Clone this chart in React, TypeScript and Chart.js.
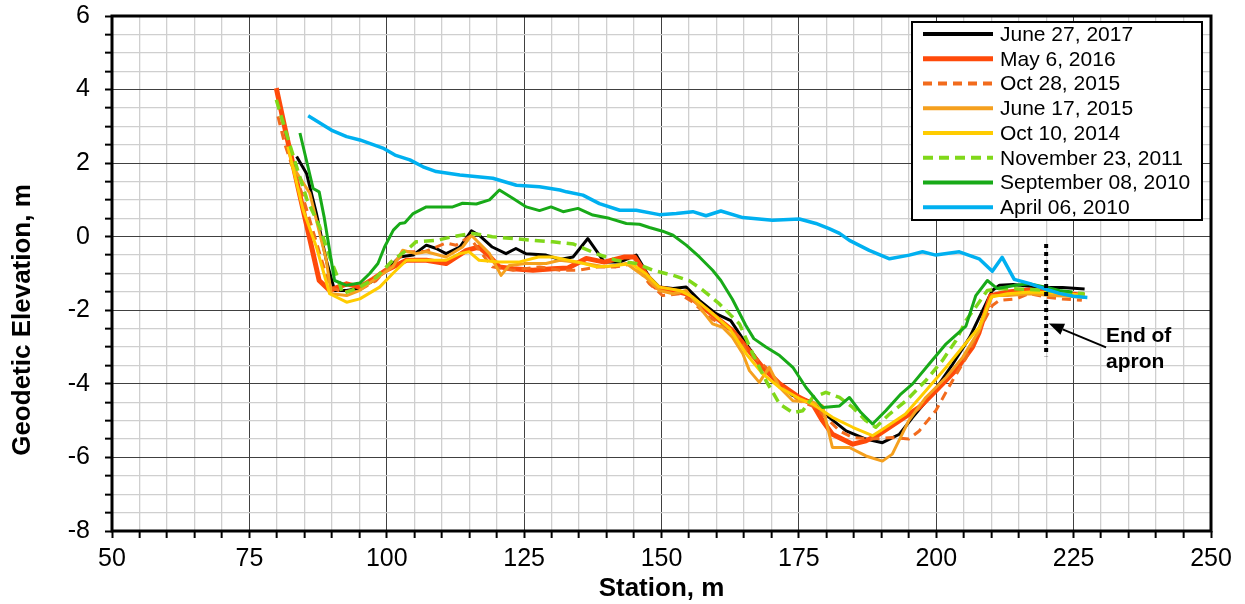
import React, { useEffect, useRef } from "react";
import { Chart, registerables } from "chart.js";

Chart.register(...registerables);

// ---------- data ----------
const LABELS = [
  "June 27, 2017",
  "May 6, 2016",
  "Oct 28, 2015",
  "June 17, 2015",
  "Oct 10, 2014",
  "November 23, 2011",
  "September 08, 2010",
  "April 06, 2010",
];

const ST_2017 = [83.6, 85.4, 87.2, 89.0, 90.5, 92.7, 95.1, 97.5, 99.9, 102.3, 104.8, 107.2, 109.0, 110.8, 113.3, 115.4, 116.8, 119.2, 121.7, 123.5, 125.3, 129.0, 131.5, 133.9, 136.6, 139.6, 142.4, 145.4, 147.8, 149.6, 152.1, 154.5, 156.9, 159.9, 162.6, 165.4, 168.4, 171.5, 173.9, 177.5, 180.5, 183.6, 187.2, 190.2, 193.3, 195.7, 199.3, 203.0, 206.1, 207.8, 210.2, 211.5, 214, 217, 220, 223, 227];
const EL_2017 = [2.18, 1.72, 0.63, -0.64, -1.46, -1.46, -1.4, -1.2, -0.91, -0.55, -0.5, -0.23, -0.32, -0.46, -0.28, 0.16, 0.04, -0.28, -0.46, -0.32, -0.46, -0.5, -0.62, -0.55, -0.05, -0.69, -0.69, -0.5, -1.1, -1.37, -1.41, -1.37, -1.73, -2.09, -2.28, -2.91, -3.55, -4.0, -4.32, -4.5, -4.91, -5.28, -5.5, -5.6, -5.37, -4.91, -4.27, -3.46, -2.73, -2.2, -1.46, -1.32, -1.3, -1.35, -1.38, -1.38, -1.42];

const ST_2016 = [79.9, 81.4, 84.1, 86.6, 87.7, 89.6, 92.7, 95.1, 97.5, 99.9, 103.6, 107.2, 110.8, 114.5, 116.8, 118.5, 120.5, 123, 126.6, 130.2, 133, 136.3, 139.6, 143.3, 145.1, 147.1, 148.9, 152.1, 154.5, 157.5, 159.9, 162.9, 165.4, 168.4, 171.5, 175.1, 177.5, 179.3, 181.1, 184.8, 187.2, 189.6, 193.3, 196.9, 200.5, 203.5, 206.6, 207.8, 209.9, 213, 217, 221, 224, 227];
const EL_2016 = [4.04, 3.0, 1.18, -0.46, -1.19, -1.46, -1.28, -1.37, -1.15, -0.91, -0.64, -0.64, -0.73, -0.37, -0.28, -0.5, -0.82, -0.87, -0.91, -0.87, -0.85, -0.59, -0.69, -0.55, -0.55, -1.0, -1.37, -1.46, -1.55, -1.91, -2.19, -2.55, -3.0, -3.55, -4.0, -4.37, -4.55, -5.0, -5.37, -5.64, -5.55, -5.37, -5.0, -4.64, -4.1, -3.64, -3.0, -2.6, -1.6, -1.5, -1.45, -1.5, -1.55, -1.6];

const ST_2015_OCT = [80.2, 81.4, 82.6, 84.5, 86.5, 88.5, 89.6, 92, 95, 98, 100.5, 103.6, 107, 110.8, 112.6, 115.0, 117, 119.2, 123.0, 127.8, 131.5, 135, 138.5, 141.7, 145, 147.8, 150.2, 153.3, 155.7, 158.7, 161.8, 164.1, 165.4, 169, 172, 175.1, 178.1, 179.9, 182.4, 184.8, 188, 192, 195, 196.9, 199.9, 203, 205.4, 208.4, 210.2, 211.5, 214.5, 216.9, 219.9, 222.9, 226.5];
const EL_2015_OCT = [3.27, 2.54, 2.0, 1.2, 0.2, -0.8, -1.37, -1.5, -1.45, -1.2, -0.8, -0.41, -0.4, -0.17, -0.23, 0.0, -0.4, -0.82, -0.91, -0.82, -0.91, -0.91, -0.82, -0.82, -0.73, -1.28, -1.6, -1.55, -1.78, -2.19, -2.46, -2.73, -3.1, -3.55, -4.1, -4.46, -4.64, -4.91, -5.28, -5.46, -5.5, -5.46, -5.5, -5.28, -4.73, -3.9, -3.3, -2.37, -1.87, -1.73, -1.69, -1.55, -1.64, -1.69, -1.73];

const ST_2015_JUN = [82.5, 86, 89, 89.9, 92.7, 95.1, 97.5, 101.1, 102.9, 105.3, 107.2, 110.8, 113.8, 115.4, 118.7, 120.8, 122.3, 125.3, 129, 131.5, 135, 139.9, 143.6, 147.1, 149.6, 152.1, 154.5, 156.9, 159.3, 161.1, 162.9, 164.8, 166, 167.8, 169.6, 171.5, 173.9, 177.5, 179.3, 181.1, 184.2, 187.2, 190.2, 192, 195, 198.1, 201.8, 204.8, 207.8, 210.2, 213, 217, 221, 224, 227];
const EL_2015_JUN = [2.0, 1.18, -0.64, -1.55, -1.6, -1.46, -1.19, -0.82, -0.37, -0.46, -0.41, -0.55, -0.28, 0.04, -0.46, -1.05, -0.78, -0.73, -0.73, -0.64, -0.7, -0.82, -0.73, -1.1, -1.46, -1.55, -1.46, -1.91, -2.37, -2.46, -2.73, -3.18, -3.64, -3.96, -3.55, -4.1, -4.46, -4.5, -4.6, -5.73, -5.73, -5.96, -6.1, -5.91, -5.0, -4.37, -3.82, -3.28, -2.55, -1.6, -1.6, -1.55, -1.6, -1.62, -1.65];

const ST_2014 = [82, 84.8, 87.2, 89.6, 92.7, 95.1, 98.7, 101.1, 103.6, 107.2, 110.8, 113.3, 115, 116.8, 120.5, 124, 127.6, 130.2, 131.5, 134.8, 138.1, 141.7, 144.5, 147.1, 149.6, 153.3, 155.7, 159.3, 162.4, 165.4, 168.4, 171.5, 175.1, 177.5, 181.1, 184.8, 188.4, 190.8, 194.4, 198.1, 201.8, 204.8, 207.8, 210, 213, 217, 221, 224, 227];
const EL_2014 = [2.45, 0.72, -0.28, -1.55, -1.78, -1.69, -1.37, -1.0, -0.64, -0.64, -0.64, -0.46, -0.41, -0.64, -0.69, -0.69, -0.55, -0.55, -0.59, -0.69, -0.82, -0.78, -0.73, -1.0, -1.37, -1.46, -1.64, -2.09, -2.5, -3.18, -3.73, -4.1, -4.4, -4.55, -4.91, -5.18, -5.41, -5.18, -4.82, -4.19, -3.55, -3.0, -2.46, -1.64, -1.55, -1.5, -1.52, -1.55, -1.6];

const ST_2011 = [79.9, 81.7, 83.6, 85.5, 87.8, 89.6, 90.8, 92, 95.1, 98.1, 101.1, 103.6, 105.3, 109, 112, 115.6, 119.2, 123, 126.6, 130.2, 134, 138.1, 141.7, 145.4, 148.4, 152.1, 155.1, 157.5, 160.5, 164.2, 166.6, 169.0, 171.5, 173.9, 175.7, 177.5, 179.9, 182.4, 184.8, 187.2, 189, 191.5, 194.5, 198.1, 201.1, 203.6, 205.4, 207.2, 209.3, 211.5, 215, 219, 223, 227];
const EL_2011 = [3.72, 2.82, 1.9, 1.0, 0.27, -0.55, -1.0, -1.55, -1.37, -1.1, -0.64, -0.37, -0.14, -0.1, 0.0, 0.09, 0.0, -0.05, -0.1, -0.14, -0.2, -0.46, -0.64, -0.73, -0.91, -1.05, -1.2, -1.45, -1.82, -2.37, -3.18, -3.91, -4.55, -4.78, -4.73, -4.37, -4.23, -4.37, -4.64, -5.0, -5.18, -4.82, -4.46, -3.91, -3.37, -2.82, -2.28, -1.91, -1.46, -1.41, -1.42, -1.45, -1.5, -1.55];

const ST_2010_SEP = [84.2, 86.6, 87.7, 88.6, 89.5, 90.5, 92.7, 95.1, 96.9, 98.4, 99.6, 101.2, 102.4, 103.3, 104.8, 107.2, 109.6, 112.0, 113.8, 116.3, 118.7, 120.5, 123, 125.4, 127.8, 129.9, 132.1, 134.8, 137.5, 140.5, 143.6, 146, 147.8, 150.2, 152.1, 154.5, 156.9, 159.3, 160.8, 162.9, 165.3, 166.8, 169.0, 171.5, 173.9, 176.3, 179.3, 182.4, 184.2, 186.3, 188.4, 190.8, 193.6, 195.7, 198.7, 201.8, 205.4, 207.2, 209.3, 211.1, 214.5, 216.9, 219.9, 222.4, 224.8];
const EL_2010_SEP = [2.82, 1.31, 1.22, 0.54, -0.28, -1.19, -1.32, -1.26, -1.0, -0.73, -0.28, 0.18, 0.36, 0.38, 0.63, 0.81, 0.81, 0.81, 0.91, 0.89, 1.0, 1.27, 1.04, 0.81, 0.71, 0.81, 0.68, 0.77, 0.59, 0.5, 0.36, 0.34, 0.25, 0.15, 0.04, -0.23, -0.55, -0.91, -1.19, -1.7, -2.4, -2.77, -3.0, -3.23, -3.55, -4.1, -4.64, -4.6, -4.37, -4.78, -5.09, -4.73, -4.27, -4.0, -3.46, -2.91, -2.43, -1.6, -1.19, -1.41, -1.32, -1.28, -1.37, -1.46, -1.5];

const ST_2010_APR = [85.7, 89.9, 92.7, 95.1, 99.3, 101.5, 104.2, 106.6, 109, 113.3, 119.3, 123.6, 127.8, 131.5, 132.7, 135.7, 138.7, 142.4, 145.4, 149.6, 152.7, 155.7, 158.1, 160.8, 164.8, 170.2, 175.1, 178.1, 180.5, 182.4, 184.2, 187.8, 191.5, 195.1, 197.5, 199.9, 204.2, 207.8, 210.2, 212, 214.2, 216.9, 219.4, 222.4, 225, 227.5];
const EL_2010_APR = [3.29, 2.9, 2.72, 2.63, 2.41, 2.22, 2.09, 1.9, 1.77, 1.68, 1.59, 1.4, 1.36, 1.27, 1.22, 1.13, 0.9, 0.72, 0.72, 0.6, 0.63, 0.68, 0.57, 0.7, 0.52, 0.45, 0.48, 0.36, 0.22, 0.09, -0.1, -0.37, -0.6, -0.5, -0.41, -0.5, -0.41, -0.6, -0.94, -0.56, -1.16, -1.27, -1.4, -1.54, -1.62, -1.65];

const STATIONS = [ST_2017, ST_2016, ST_2015_OCT, ST_2015_JUN, ST_2014, ST_2011, ST_2010_SEP, ST_2010_APR];
const ELEVATIONS = [EL_2017, EL_2016, EL_2015_OCT, EL_2015_JUN, EL_2014, EL_2011, EL_2010_SEP, EL_2010_APR];

const APRON_STATION = 220;
const APRON_TOP = -0.2;
const APRON_BOTTOM = -3.25;

// ---------- styles ----------
const COLORS = ["#000000", "#FF4A0A", "#F26B1D", "#F5A01E", "#FFCC00", "#80D81A", "#18AA18", "#00B0F0"];
const WIDTHS = [3, 5, 3, 3, 3, 3.5, 3, 3.5];
const DASHES: number[][] = [[], [], [9, 6], [], [], [10, 6], [], []];

const FONT = "'Liberation Sans', Arial, sans-serif";

const framePlugin = {
  id: "frame",
  afterDraw(chart: any) {
    const { ctx, chartArea: a, scales } = chart;
    const xs = scales.x;
    const ys = scales.y;
    ctx.save();
    // annotation: end of apron
    const ax = xs.getPixelForValue(APRON_STATION);
    ctx.strokeStyle = "#000";
    ctx.lineWidth = 4;
    ctx.setLineDash([4, 4]);
    ctx.beginPath();
    ctx.moveTo(ax, ys.getPixelForValue(APRON_TOP));
    ctx.lineTo(ax, ys.getPixelForValue(APRON_BOTTOM));
    ctx.stroke();
    ctx.setLineDash([]);
    // arrow
    const tx = xs.getPixelForValue(230.9), ty = ys.getPixelForValue(-3.01);
    const hx = xs.getPixelForValue(220.5), hy = ys.getPixelForValue(-2.36);
    const ang = Math.atan2(hy - ty, hx - tx);
    const L = 15, W = 6;
    const bx = hx - L * Math.cos(ang), by = hy - L * Math.sin(ang);
    ctx.lineWidth = 2;
    ctx.beginPath();
    ctx.moveTo(tx, ty);
    ctx.lineTo(bx, by);
    ctx.stroke();
    ctx.fillStyle = "#000";
    ctx.beginPath();
    ctx.moveTo(hx, hy);
    ctx.lineTo(bx + W * Math.sin(ang), by - W * Math.cos(ang));
    ctx.lineTo(bx - W * Math.sin(ang), by + W * Math.cos(ang));
    ctx.closePath();
    ctx.fill();
    ctx.font = `bold 21px ${FONT}`;
    ctx.textAlign = "left";
    ctx.textBaseline = "middle";
    ctx.fillText("End of", xs.getPixelForValue(230.9), ys.getPixelForValue(-2.71));
    ctx.fillText("apron", xs.getPixelForValue(230.9), ys.getPixelForValue(-3.42));

    // frame
    ctx.lineWidth = 3;
    ctx.strokeStyle = "#000";
    ctx.strokeRect(a.left, a.top, a.right - a.left, a.bottom - a.top);

    // legend
    const lx = a.right - 299, ly = a.top + 6, lw = 290, lh = 198;
    ctx.fillStyle = "#fff";
    ctx.fillRect(lx, ly, lw, lh);
    ctx.lineWidth = 2;
    ctx.strokeRect(lx, ly, lw, lh);
    ctx.font = `21px ${FONT}`;
    ctx.textAlign = "left";
    ctx.textBaseline = "middle";
    LABELS.forEach((lab, i) => {
      const yy = ly + 12 + i * 24.75;
      ctx.strokeStyle = COLORS[i];
      ctx.lineWidth = i === 1 ? 5 : 4;
      ctx.setLineDash(DASHES[i]);
      ctx.beginPath();
      ctx.moveTo(lx + 11, yy);
      ctx.lineTo(lx + 81, yy);
      ctx.stroke();
      ctx.setLineDash([]);
      ctx.fillStyle = "#000";
      ctx.fillText(lab, lx + 88, yy + 1);
    });

    // axis titles
    ctx.font = `bold 26px ${FONT}`;
    ctx.textAlign = "center";
    ctx.textBaseline = "middle";
    ctx.fillText("Station, m", (a.left + a.right) / 2, 589);
    ctx.translate(23, 320);
    ctx.rotate(-Math.PI / 2);
    ctx.fillText("Geodetic Elevation, m", 0, 0);
    ctx.restore();
  },
};

export default function App() {
  const ref = useRef<HTMLCanvasElement | null>(null);
  useEffect(() => {
    document.body.style.margin = "0";
    const datasets = LABELS.map((label, i) => ({
      label,
      data: STATIONS[i].map((s, j) => ({ x: s, y: ELEVATIONS[i][j] })),
      borderColor: COLORS[i],
      backgroundColor: COLORS[i],
      borderWidth: WIDTHS[i],
      borderDash: DASHES[i],
      pointRadius: 0,
      tension: 0,
      fill: false,
      borderJoinStyle: "round" as const,
      order: LABELS.length - i,
    }));
    const chart = new Chart(ref.current!, {
      type: "line",
      data: { datasets },
      plugins: [framePlugin],
      options: {
        responsive: false,
        animation: false,
        layout: { padding: { top: 16, right: 34, left: 0, bottom: 0 } },
        plugins: { legend: { display: false }, tooltip: { enabled: false }, title: { display: false } },
        scales: {
          x: {
            type: "linear",
            min: 50,
            max: 250,
            afterFit: (s: any) => { s.height = 73; s.paddingLeft = 0; s.paddingRight = 0; },
            border: { display: false },
            ticks: {
              stepSize: 5,
              autoSkip: false,
              maxRotation: 0,
              padding: 6,
              color: "#000",
              font: { family: FONT, size: 25 },
              callback: (v: any) => (Number(v) % 25 === 0 ? String(v) : ""),
            },
            grid: {
              color: (c: any) => (c.tick && c.tick.value % 25 === 0 ? "#404040" : "#cfcfcf"),
              lineWidth: (c: any) => (c.tick && c.tick.value % 25 === 0 ? 1 : 1.3),
              tickColor: "#000",
              tickLength: 7,
              tickWidth: 2,
            },
          },
          y: {
            type: "linear",
            min: -8,
            max: 6,
            afterFit: (s: any) => { s.width = 112; s.paddingTop = 0; s.paddingBottom = 0; },
            border: { display: false },
            ticks: {
              stepSize: 0.5,
              autoSkip: false,
              padding: 15,
              color: "#000",
              font: { family: FONT, size: 25 },
              callback: (v: any) => {
                const n = Number(v);
                return Math.abs(n % 2) < 1e-9 ? String(n) : "";
              },
            },
            grid: {
              color: (c: any) => (c.tick && Math.abs(c.tick.value % 2) < 1e-9 ? "#404040" : "#cfcfcf"),
              lineWidth: (c: any) => (c.tick && Math.abs(c.tick.value % 2) < 1e-9 ? 1 : 1.3),
              tickColor: "#000",
              tickLength: 7,
              tickWidth: 2,
            },
          },
        },
      },
    });
    return () => chart.destroy();
  }, []);
  return (
    <div style={{ width: 1245, height: 604, position: "relative" }}>
      <canvas ref={ref} width={1245} height={604} style={{ display: "block" }} />
    </div>
  );
}
